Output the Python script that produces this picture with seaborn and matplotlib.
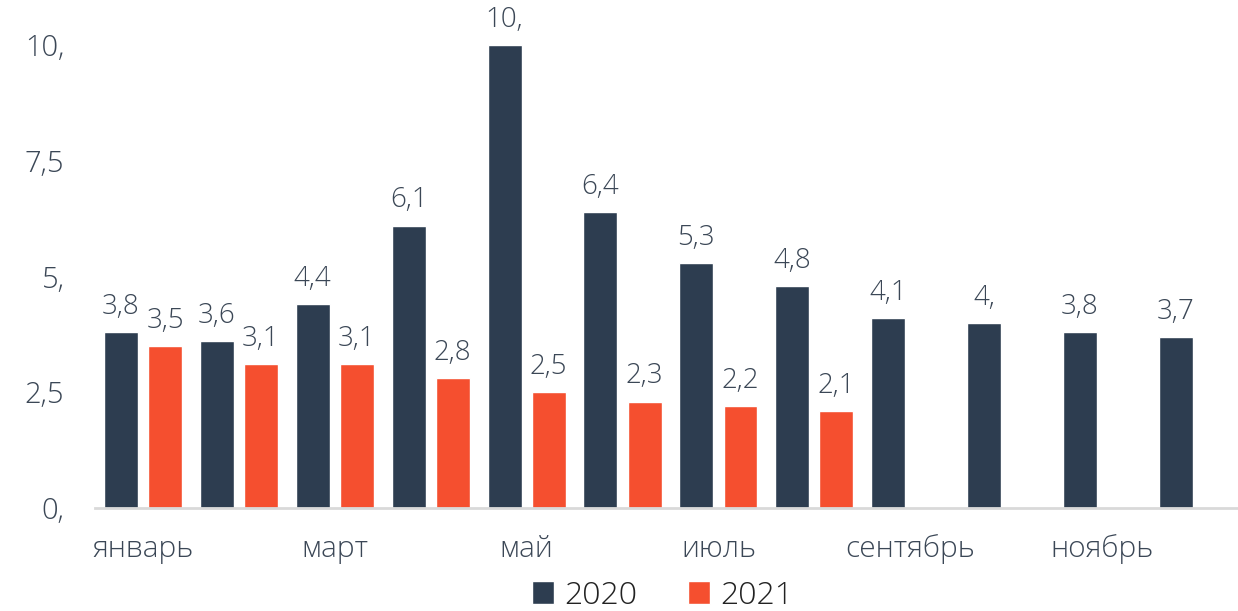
import matplotlib
matplotlib.use("Agg")
import matplotlib.pyplot as plt
import seaborn as sns
import pandas as pd
import numpy as np

months = ["январь", "февраль", "март", "апрель", "май", "июнь",
          "июль", "август", "сентябрь", "октябрь", "ноябрь", "декабрь"]
values_2020 = [3.8, 3.6, 4.4, 6.1, 10.0, 6.4, 5.3, 4.8, 4.1, 4.0, 3.8, 3.7]
values_2021 = [3.5, 3.1, 3.1, 2.8, 2.5, 2.3, 2.2, 2.1]
series = ["2020", "2021"]
y_ticks = [0, 2.5, 5, 7.5, 10]
y_tick_labels = ["0,", "2,5", "5,", "7,5", "10,"]

rows = []
for m, v in zip(months, values_2020):
    rows.append({"month": m, "year": "2020", "value": v})
for m, v in zip(months, values_2021):
    rows.append({"month": m, "year": "2021", "value": v})
df = pd.DataFrame(rows)

sns.set_theme(style="white")
plt.rcParams["font.family"] = ["Open Sans", "Noto Sans", "DejaVu Sans"]
TXT = "#3b4756"
W = "light"
palette = {"2020": "#2d3d50", "2021": "#f54f2f"}

fig = plt.figure(figsize=(12.38, 6.11), dpi=100)
ax = fig.add_axes([95 / 1238, 0.1686, 1 - 95 / 1238, 0.7956])

sns.barplot(data=df, x="month", y="value", hue="year", order=months,
            hue_order=series, palette=palette, width=0.92, gap=0.23,
            saturation=1, ax=ax, legend=True)

def fmt(v):
    s = f"{v:.1f}"
    if s.endswith(".0"):
        s = s[:-1]
    return s.replace(".", ",")

for cont in ax.containers:
    labels = [fmt(v) for v in cont.datavalues]
    ax.bar_label(cont, labels=labels, padding=8, fontsize=20, color=TXT,
                 fontweight=W)

ax.set_xlim(-0.5, 11.417)
ax.set_ylim(0, 10.5)
ax.set_yticks(y_ticks)
ax.set_yticklabels(y_tick_labels)
ax.set_xticks(range(len(months)))
ax.set_xticklabels([m if i % 2 == 0 else "" for i, m in enumerate(months)])
ax.tick_params(axis="y", length=0, pad=22, labelsize=21, labelcolor=TXT)
ax.tick_params(axis="x", length=0, pad=19, labelsize=21.5, labelcolor=TXT)
for lab in ax.get_xticklabels() + ax.get_yticklabels():
    lab.set_fontweight(W)
ax.set_xlabel("")
ax.set_ylabel("")
for s in ["top", "right", "left"]:
    ax.spines[s].set_visible(False)
ax.spines["bottom"].set_color("#d9d9d9")
ax.spines["bottom"].set_linewidth(2)
ax.grid(False)

handles, labels = ax.get_legend_handles_labels()
ax.legend_.remove()
fig.legend(handles, labels, loc="center", bbox_to_anchor=(0.535, 0.025),
           ncol=2, frameon=False, prop={"size": 23, "weight": W},
           handlelength=0.7, handleheight=0.7, handletextpad=0.3,
           columnspacing=1.6, labelcolor="#222222", borderpad=0.1)

fig.savefig("out.png", dpi=100)
